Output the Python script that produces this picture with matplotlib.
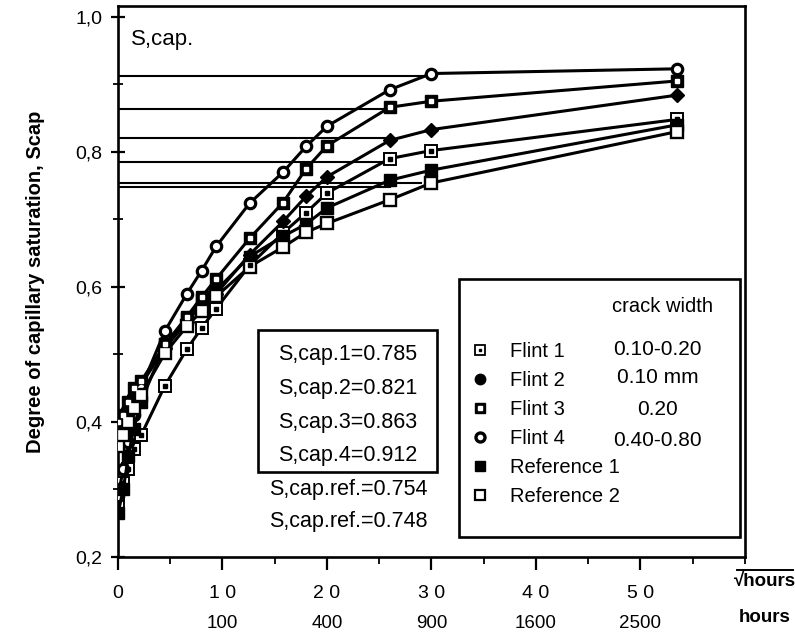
import matplotlib
matplotlib.use("Agg")
import matplotlib.pyplot as plt
from matplotlib.lines import Line2D
from matplotlib.patches import Rectangle

plt.rcParams['font.family'] = ['Liberation Sans', 'DejaVu Sans']

# ---- data ----
sqrt_hours = [0, 0.5, 1.0, 1.5, 2.2, 4.5, 6.6, 8.0, 9.4, 12.6, 15.8, 18.0, 20.0, 26.0, 30.0, 53.5]

flint1 = [0.28, 0.31, 0.33, 0.36, 0.38, 0.454, 0.508, 0.539, 0.568, 0.632, 0.680, 0.710, 0.739, 0.790, 0.802, 0.848]
flint2 = [0.38, 0.40, 0.42, 0.44, 0.455, 0.510, 0.548, 0.575, 0.590, 0.648, 0.697, 0.734, 0.763, 0.817, 0.833, 0.884]
flint3 = [0.40, 0.41, 0.43, 0.45, 0.46, 0.515, 0.556, 0.585, 0.612, 0.672, 0.725, 0.775, 0.809, 0.866, 0.875, 0.905]
flint4 = [0.29, 0.33, 0.37, 0.41, 0.45, 0.535, 0.590, 0.624, 0.660, 0.724, 0.770, 0.808, 0.838, 0.892, 0.916, 0.923]
ref1 = [0.265, 0.30, 0.35, 0.39, 0.43, 0.515, 0.553, 0.580, 0.595, 0.645, 0.675, 0.693, 0.717, 0.758, 0.773, 0.840]
ref2 = [0.365, 0.38, 0.40, 0.42, 0.44, 0.502, 0.542, 0.564, 0.586, 0.630, 0.659, 0.681, 0.694, 0.729, 0.754, 0.830]

# S,cap levels drawn as horizontal lines from the axis to the curve
scap_levels = [0.912, 0.863, 0.821, 0.785, 0.754, 0.748]
scap_ends = [30.0, 26.0, 26.0, 26.0, 29.0, 26.0]

scap_text = ["S,cap.1=0.785", "S,cap.2=0.821", "S,cap.3=0.863", "S,cap.4=0.912"]
scap_ref_text = ["S,cap.ref.=0.754", "S,cap.ref.=0.748"]

names = ["Flint 1", "Flint 2", "Flint 3", "Flint 4", "Reference 1", "Reference 2"]
crack = ["0.10-0.20", "0.10 mm", "0.20", "0.40-0.80"]

x_ticks = [0, 10, 20, 30, 40, 50]
x_ticklabels = ["0", "1 0", "2 0", "3 0", "4 0", "5 0"]
hours_ticks = [10, 20, 30, 40, 50]
hours_labels = ["100", "400", "900", "1600", "2500"]
y_ticks = [0.2, 0.4, 0.6, 0.8, 1.0]
y_ticklabels = ["0,2", "0,4", "0,6", "0,8", "1,0"]

fig = plt.figure(figsize=(7.95, 6.39), dpi=100)
ax = fig.add_axes([0.1484, 0.1283, 0.7887, 0.8623])

# horizontal S,cap lines
for lvl, xe in zip(scap_levels, scap_ends):
    ax.plot([0, xe], [lvl, lvl], color="black", lw=1.5, zorder=2)

lw = 2.2
# Flint 1: thin open square with a dot
ax.plot(sqrt_hours, flint1, color="black", lw=lw, marker="s", ms=8,
        mfc="white", mec="black", mew=1.4, zorder=3)
ax.plot(sqrt_hours, flint1, ls="none", marker="s", ms=2.2, color="black", zorder=4)
# Flint 2: filled diamond
ax.plot(sqrt_hours, flint2, color="black", lw=lw, marker="D", ms=7,
        mfc="black", mec="black", zorder=3)
# Flint 3: thick square with small white centre
ax.plot(sqrt_hours, flint3, color="black", lw=lw, marker="s", ms=8.5,
        mfc="black", mec="black", zorder=3)
ax.plot(sqrt_hours, flint3, ls="none", marker="s", ms=2.6, color="white", zorder=4)
# Flint 4: open circle with heavy edge
ax.plot(sqrt_hours, flint4, color="black", lw=lw, marker="o", ms=7.5,
        mfc="white", mec="black", mew=2.3, zorder=3)
# Reference 1: filled square
ax.plot(sqrt_hours, ref1, color="black", lw=lw, marker="s", ms=8.5,
        mfc="black", mec="black", zorder=3)
# Reference 2: open square
ax.plot(sqrt_hours, ref2, color="black", lw=lw, marker="s", ms=9,
        mfc="white", mec="black", mew=1.7, zorder=3)

ax.set_xlim(0, 60)
ax.set_ylim(0.2, 1.016)

for sp in ax.spines.values():
    sp.set_linewidth(1.9)

ax.set_xticks(x_ticks)
ax.set_xticklabels(x_ticklabels, fontsize=14)
ax.set_xticks([5, 15, 25, 35, 45, 55, 60], minor=True)
ax.set_yticks(y_ticks)
ax.set_yticklabels(y_ticklabels, fontsize=14)
ax.set_yticks([0.3, 0.5, 0.7, 0.9], minor=True)
ax.tick_params(axis="x", which="major", direction="out", length=9, width=1.6, pad=11)
ax.tick_params(axis="x", which="minor", direction="out", length=5, width=1.3)
ax.tick_params(axis="y", which="major", direction="inout", length=10, width=1.6, pad=6)
ax.tick_params(axis="y", which="minor", direction="inout", length=7, width=1.3)

# second row of x labels: hours
sec = ax.secondary_xaxis("bottom")
sec.set_xticks(hours_ticks)
sec.set_xticklabels(hours_labels, fontsize=13.5)
sec.tick_params(length=0, pad=42)
sec.spines["bottom"].set_visible(False)

ax.set_ylabel("Degree of capillary saturation, Scap", fontsize=14.5,
              fontweight="bold", labelpad=22)

fig.text(0.962, 0.090, "\u221ahours", fontsize=13.5, fontweight="bold",
         ha="center", va="center")
fig.add_artist(Line2D([0.927, 0.998], [0.108, 0.108], transform=fig.transFigure,
                      color="black", lw=1.4))
fig.text(0.962, 0.034, "hours", fontsize=13.5, fontweight="bold",
         ha="center", va="center")

ax.text(1.2, 0.966, "S,cap.", fontsize=16, ha="left", va="center")

# S,cap box
ax.add_patch(Rectangle((0.223, 0.154), 0.286, 0.258, transform=ax.transAxes,
                       fill=False, lw=1.9, zorder=5))
for s, yy in zip(scap_text, [0.367, 0.305, 0.245, 0.185]):
    ax.text(0.366, yy, s, transform=ax.transAxes, fontsize=15.5,
            ha="center", va="center")
for s, yy in zip(scap_ref_text, [0.122, 0.064]):
    ax.text(0.368, yy, s, transform=ax.transAxes, fontsize=15.5,
            ha="center", va="center")

# legend box
ax.add_patch(Rectangle((0.544, 0.037), 0.448, 0.467, transform=ax.transAxes,
                       fill=False, lw=1.9, zorder=5))
ax.text(0.869, 0.454, "crack width", transform=ax.transAxes, fontsize=14.5,
        ha="center", va="center")
for s, yy in zip(crack, [0.376, 0.325, 0.268, 0.211]):
    ax.text(0.861, yy, s, transform=ax.transAxes, fontsize=15,
            ha="center", va="center")


def proxy(**kw):
    kw.setdefault("color", "black")
    return Line2D([], [], ls="none", **kw)


handles = [
    (proxy(marker="s", ms=7, mfc="white", mec="black", mew=1.3), proxy(marker="s", ms=2)),
    proxy(marker="o", ms=7.5, mfc="black"),
    (proxy(marker="s", ms=7.5, mfc="black"), proxy(marker="s", ms=2.5, color="white")),
    proxy(marker="o", ms=6.5, mfc="white", mew=2.4),
    proxy(marker="s", ms=7.5, mfc="black"),
    proxy(marker="s", ms=7.5, mfc="white", mew=1.6),
]
ax.legend(handles, names, loc="upper left", bbox_to_anchor=(0.548, 0.405),
          frameon=False, fontsize=14.5, handlelength=1.0, handletextpad=1.0,
          labelspacing=0.5, borderaxespad=0)

fig.savefig("out.png", dpi=100)
